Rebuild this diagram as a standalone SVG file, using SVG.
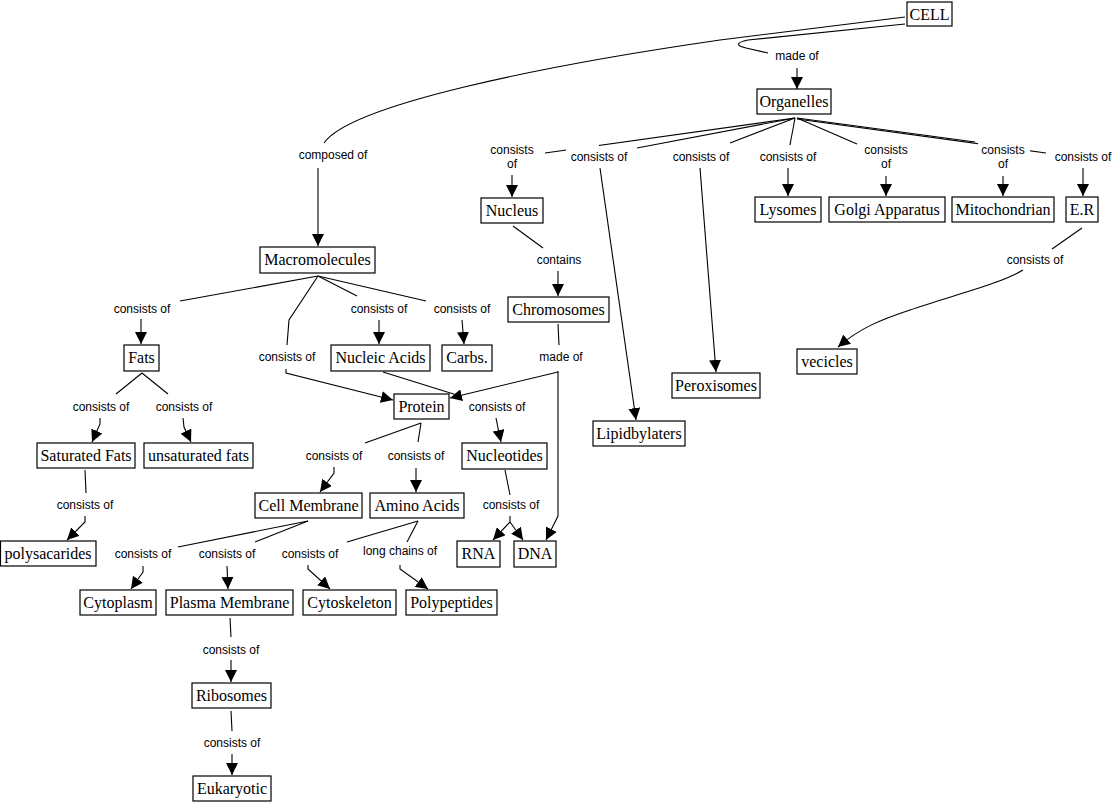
<svg xmlns="http://www.w3.org/2000/svg" width="1119" height="804" viewBox="0 0 1119 804">
<style>
.n rect{fill:#fff;stroke:#000;stroke-width:1.2}
.n text{font-family:"Liberation Serif","Times New Roman",serif;font-size:16px;text-anchor:middle;fill:#000}
.l rect{fill:#fff;stroke:none}
.l text{font-family:"Liberation Sans",Arial,sans-serif;font-size:12px;text-anchor:middle;fill:#000}
#connectors path{fill:none;stroke:#000;stroke-width:1.1}
.a{marker-end:url(#ah)}
</style>
<defs>
<marker id="ah" markerUnits="userSpaceOnUse" markerWidth="13" markerHeight="12" refX="12" refY="6" orient="auto">
<path d="M0,0 L12,6 L0,12 z" fill="#000"/>
</marker>
</defs>
<rect width="1119" height="804" fill="#fff"/>
<g id="connectors">
<path d="M905,24 L748,40 Q730,44 746,48 L768,53"/>
<path class="a" d="M797,68 L797,89"/>
<path d="M905,17 L720,40 C540,66 350,105 324,143"/>
<path class="a" d="M318,168 L318,246"/>
<path d="M795,118 L545,153"/>
<path d="M795,118 L637,148"/>
<path d="M795,118 L730,143"/>
<path d="M795,118 L790,145"/>
<path d="M797,118 L857,144"/>
<path d="M797,118 L975,142"/>
<path d="M797,119 L1046,153"/>
<path class="a" d="M512,175 L512,197"/>
<path class="a" d="M600,168 L636,420"/>
<path class="a" d="M700,168 L716,372"/>
<path class="a" d="M788,168 L788,196"/>
<path class="a" d="M886,176 L886,196"/>
<path class="a" d="M1003,176 L1003,196"/>
<path class="a" d="M1083,168 L1083,196"/>
<path d="M513,226 L543,248"/>
<path class="a" d="M558,271 L558,296"/>
<path d="M558,324 L559,345"/>
<path class="a" d="M558,371 L558,516 L546,540"/>
<path class="a" d="M558,372 L450,398"/>
<path d="M1082,228 L1052,249"/>
<path class="a" d="M1023,270 C1000,284 950,296 910,310 C880,320 860,328 838,347"/>
<path d="M318,276 L180,301"/>
<path d="M318,276 L289,320 L287,345"/>
<path d="M318,276 L357,296"/>
<path d="M318,276 L426,301"/>
<path class="a" d="M141,319 L141,344"/>
<path class="a" d="M379,320 L379,344"/>
<path class="a" d="M462,320 L464,344"/>
<path class="a" d="M286,369 L286,373 L393,400"/>
<path d="M383,372 L460,396"/>
<path class="a" d="M496,418 L498,428 L501,442"/>
<path d="M142,373 L116,394"/>
<path d="M142,373 L168,394"/>
<path class="a" d="M100,418 L100,424 L92,442"/>
<path class="a" d="M183,418 L184,427 L191,442"/>
<path d="M421,423 L365,443"/>
<path d="M421,423 L418,442"/>
<path class="a" d="M334,467 L334,473 L320,492"/>
<path class="a" d="M416,468 L416,492"/>
<path d="M85,470 L86,493"/>
<path class="a" d="M85,516 L85,522 L67,540"/>
<path d="M505,470 L510,495"/>
<path class="a" d="M510,516 L510,522 L493,540"/>
<path class="a" d="M510,522 L523,540"/>
<path d="M308,521 L178,547"/>
<path d="M308,521 L255,542"/>
<path d="M418,521 L347,542"/>
<path d="M418,521 L407,542"/>
<path class="a" d="M143,566 L143,572 L131,589"/>
<path class="a" d="M227,566 L228,589"/>
<path class="a" d="M308,565 L308,569 L330,589"/>
<path class="a" d="M400,565 L400,569 L428,589"/>
<path d="M230,618 L231,637"/>
<path class="a" d="M231,660 L231,682"/>
<path d="M231,711 L232,731"/>
<path class="a" d="M232,754 L232,775"/>
</g>
<g id="lbl-madeof1" class="l"><text x="797" y="60">made of</text></g>
<g id="lbl-composed" class="l"><text x="333" y="159">composed of</text></g>
<g id="lbl-nuc" class="l"><text x="512" y="154">consists</text><text x="512" y="168">of</text></g>
<g id="lbl-lip" class="l"><rect x="566" y="139" width="33" height="27"/><rect x="566" y="146" width="64" height="20"/><text x="599" y="161">consists of</text></g>
<g id="lbl-per" class="l"><text x="701" y="161">consists of</text></g>
<g id="lbl-lys" class="l"><text x="788" y="161">consists of</text></g>
<g id="lbl-gol" class="l"><text x="886" y="154">consists</text><text x="886" y="168">of</text></g>
<g id="lbl-mit" class="l"><rect x="978" y="142" width="52" height="30"/><text x="1003" y="154">consists</text><text x="1003" y="168">of</text></g>
<g id="lbl-er" class="l"><text x="1083" y="161">consists of</text></g>
<g id="lbl-contains" class="l"><text x="559" y="264">contains</text></g>
<g id="lbl-madeof2" class="l"><text x="561" y="361">made of</text></g>
<g id="lbl-er2" class="l"><text x="1035" y="264">consists of</text></g>
<g id="lbl-fats" class="l"><text x="142" y="313">consists of</text></g>
<g id="lbl-prot" class="l"><text x="287" y="361">consists of</text></g>
<g id="lbl-nucac" class="l"><text x="379" y="313">consists of</text></g>
<g id="lbl-carbs" class="l"><text x="462" y="313">consists of</text></g>
<g id="lbl-nucleo" class="l"><text x="497" y="411">consists of</text></g>
<g id="lbl-sat" class="l"><text x="101" y="411">consists of</text></g>
<g id="lbl-unsat" class="l"><text x="184" y="411">consists of</text></g>
<g id="lbl-cellm" class="l"><text x="334" y="460">consists of</text></g>
<g id="lbl-amino" class="l"><text x="416" y="460">consists of</text></g>
<g id="lbl-poly" class="l"><text x="85" y="509">consists of</text></g>
<g id="lbl-rnadna" class="l"><text x="511" y="509">consists of</text></g>
<g id="lbl-cyto" class="l"><text x="143" y="558">consists of</text></g>
<g id="lbl-plasma" class="l"><text x="227" y="558">consists of</text></g>
<g id="lbl-cytosk" class="l"><text x="310" y="558">consists of</text></g>
<g id="lbl-chains" class="l"><text x="400" y="555">long chains of</text></g>
<g id="lbl-ribo" class="l"><text x="231" y="654">consists of</text></g>
<g id="lbl-euk" class="l"><text x="232" y="747">consists of</text></g>
<g id="n-cell" class="n"><rect x="907" y="2" width="45" height="24"/><text x="929.5" y="20">CELL</text></g>
<g id="n-organelles" class="n"><rect x="757" y="89" width="74" height="25"/><text x="794" y="107">Organelles</text></g>
<g id="n-nucleus" class="n"><rect x="481" y="198" width="62" height="25"/><text x="512" y="216">Nucleus</text></g>
<g id="n-lysomes" class="n"><rect x="755" y="197" width="66" height="25"/><text x="788" y="215">Lysomes</text></g>
<g id="n-golgi" class="n"><rect x="829" y="197" width="116" height="25"/><text x="887" y="215">Golgi Apparatus</text></g>
<g id="n-mito" class="n"><rect x="952" y="197" width="102" height="25"/><text x="1003" y="215">Mitochondrian</text></g>
<g id="n-er" class="n"><rect x="1066" y="197" width="32" height="25"/><text x="1082" y="215">E.R</text></g>
<g id="n-macro" class="n"><rect x="260" y="247" width="115" height="26"/><text x="317.5" y="265">Macromolecules</text></g>
<g id="n-chromo" class="n"><rect x="508" y="297" width="101" height="25"/><text x="558.5" y="315">Chromosomes</text></g>
<g id="n-fats" class="n"><rect x="124" y="345" width="35" height="26"/><text x="141.5" y="363">Fats</text></g>
<g id="n-nucacids" class="n"><rect x="331" y="345" width="99" height="26"/><text x="380.5" y="363">Nucleic Acids</text></g>
<g id="n-carbs" class="n"><rect x="442" y="345" width="50" height="26"/><text x="467" y="363">Carbs.</text></g>
<g id="n-vecicles" class="n"><rect x="797" y="349" width="60" height="25"/><text x="827" y="367">vecicles</text></g>
<g id="n-perox" class="n"><rect x="672" y="373" width="88" height="25"/><text x="716" y="391">Peroxisomes</text></g>
<g id="n-protein" class="n"><rect x="394" y="394" width="55" height="25"/><text x="421.5" y="412">Protein</text></g>
<g id="n-lipid" class="n"><rect x="593" y="421" width="92" height="25"/><text x="639" y="439">Lipidbylaters</text></g>
<g id="n-satfats" class="n"><rect x="37" y="443" width="98" height="25"/><text x="86" y="461">Saturated Fats</text></g>
<g id="n-unsat" class="n"><rect x="144" y="443" width="109" height="25"/><text x="198.5" y="461">unsaturated fats</text></g>
<g id="n-nucleotides" class="n"><rect x="462" y="443" width="85" height="26"/><text x="504.5" y="461">Nucleotides</text></g>
<g id="n-cellmem" class="n"><rect x="255" y="493" width="107" height="25"/><text x="308.5" y="511">Cell Membrane</text></g>
<g id="n-amino" class="n"><rect x="370" y="493" width="94" height="25"/><text x="417" y="511">Amino Acids</text></g>
<g id="n-polysac" class="n"><rect x="0.5" y="541" width="95.5" height="25"/><text x="48" y="559">polysacarides</text></g>
<g id="n-rna" class="n"><rect x="457" y="541" width="43" height="26"/><text x="478.5" y="559">RNA</text></g>
<g id="n-dna" class="n"><rect x="514" y="541" width="42" height="26"/><text x="535" y="559">DNA</text></g>
<g id="n-cytoplasm" class="n"><rect x="80" y="590" width="76" height="25"/><text x="118" y="608">Cytoplasm</text></g>
<g id="n-plasma" class="n"><rect x="166" y="590" width="127" height="25"/><text x="229.5" y="608">Plasma Membrane</text></g>
<g id="n-cytosk" class="n"><rect x="303" y="590" width="93" height="25"/><text x="349.5" y="608">Cytoskeleton</text></g>
<g id="n-polypep" class="n"><rect x="406" y="590" width="91" height="25"/><text x="451.5" y="608">Polypeptides</text></g>
<g id="n-ribo" class="n"><rect x="192" y="683" width="79" height="25"/><text x="231.5" y="701">Ribosomes</text></g>
<g id="n-euk" class="n"><rect x="193" y="776" width="78" height="25"/><text x="232" y="794">Eukaryotic</text></g>
</svg>
